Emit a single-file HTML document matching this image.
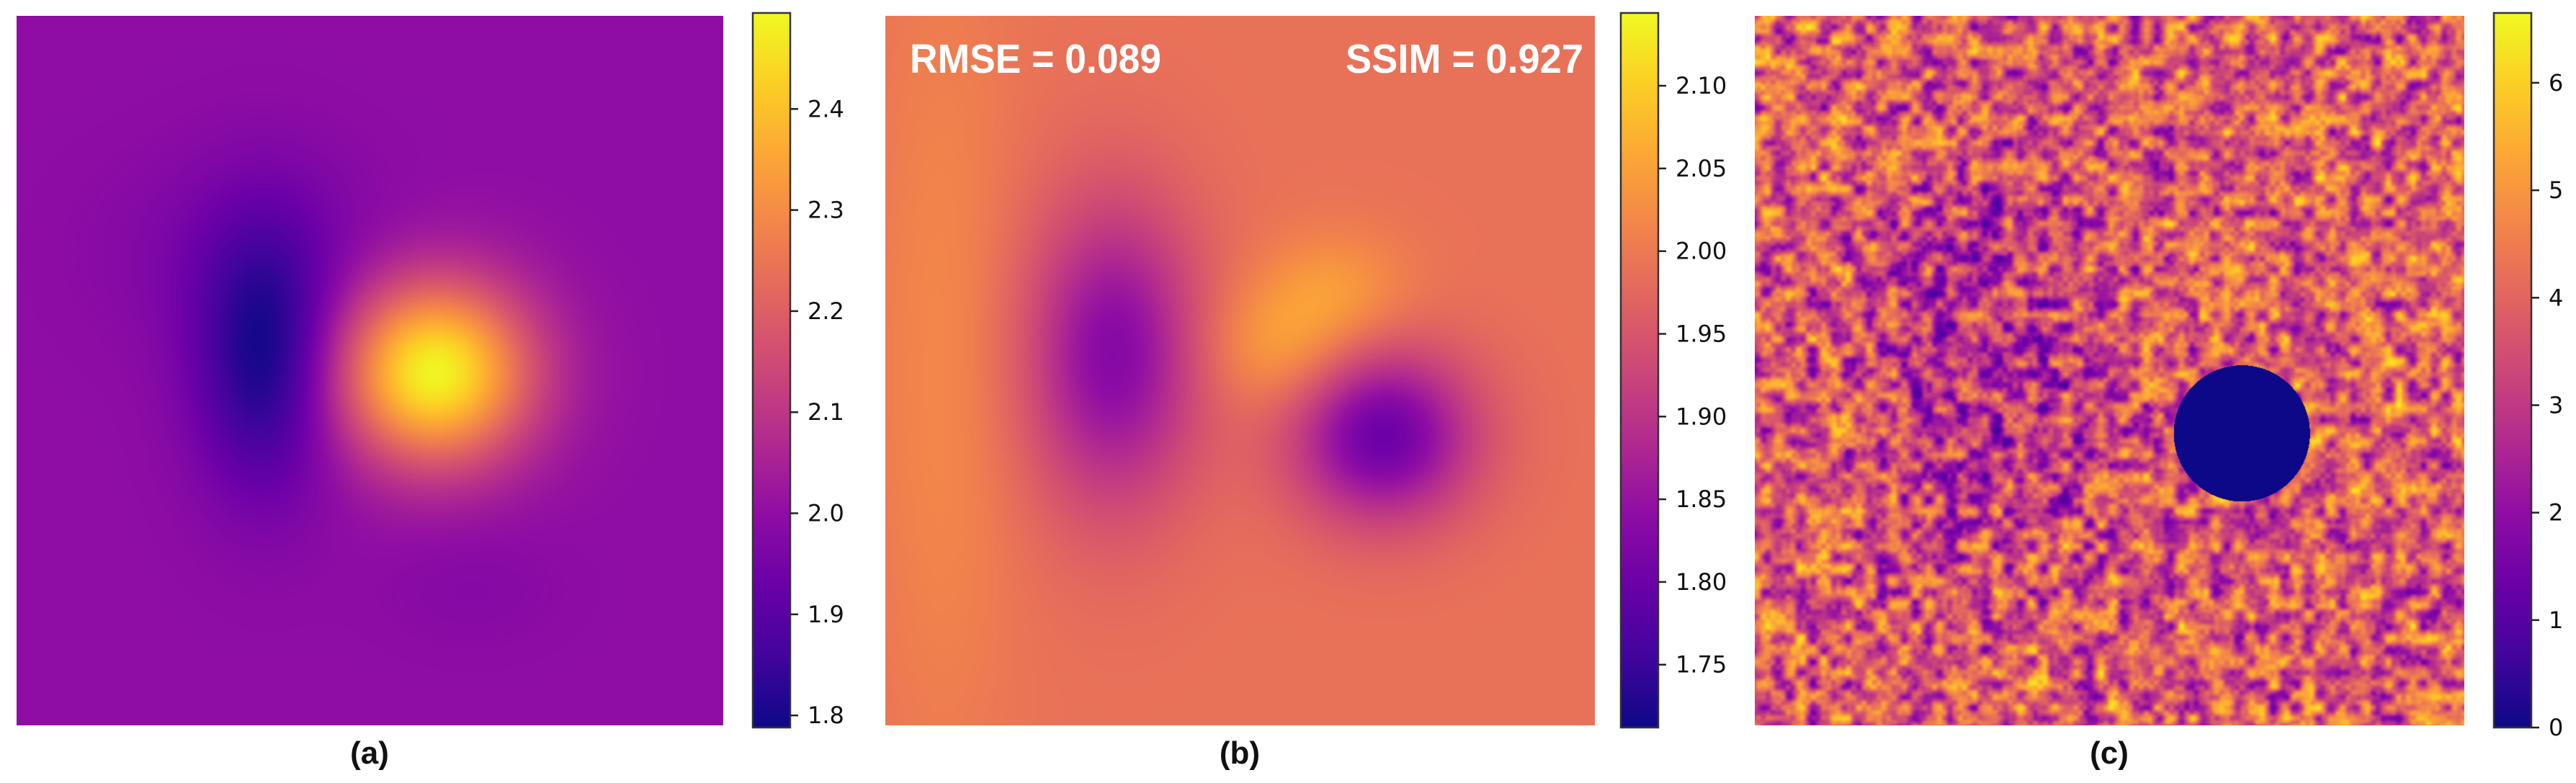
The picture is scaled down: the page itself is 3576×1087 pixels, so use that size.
<!DOCTYPE html>
<html><head><meta charset="utf-8"><style>
body{margin:0;background:#fff;width:3576px;height:1087px;overflow:hidden;position:relative;font-family:"DejaVu Sans","Liberation Sans",sans-serif}
canvas{position:absolute}
svg{position:absolute;left:0;top:0}
</style></head><body>
<canvas id="ca" width="245" height="246" style="left:23px;top:22px;width:981px;height:985px"></canvas>
<canvas id="cb" width="246" height="246" style="left:1229px;top:22px;width:985px;height:985px"></canvas>
<canvas id="cc" width="985" height="985" style="left:2436px;top:22px;width:985px;height:985px"></canvas>
<svg id="s" width="3576" height="1087"></svg>
<script>
// colorbar data
const cbA_ticks=[1.8,1.9,2.0,2.1,2.2,2.3,2.4], cbA_labels=["1.8","1.9","2.0","2.1","2.2","2.3","2.4"], cbA_range=[1.788,2.495];
const cbB_ticks=[1.75,1.80,1.85,1.90,1.95,2.00,2.05,2.10], cbB_labels=["1.75","1.80","1.85","1.90","1.95","2.00","2.05","2.10"], cbB_range=[1.712,2.144];
const cbC_ticks=[0,1,2,3,4,5,6], cbC_labels=["0","1","2","3","4","5","6"], cbC_range=[0,6.65];
// field components [cx, cy, sx, sy, amplitude] in panel fraction
const fieldA_base=2.0;
const fieldA_blobs=[[0.35,0.48,0.07,0.13,-0.2],[0.33,0.33,0.14,0.1,-0.04],[0.59,0.5,0.095,0.09,0.49],[0.64,0.8,0.09,0.06,-0.02]];
const fieldB_base=1.99;
const fieldB_blobs=[[0.32,0.475,0.085,0.15,-0.16],[0.70,0.59,0.09,0.085,-0.19],[0.63,0.39,0.075,0.06,0.055],[0.55,0.47,0.07,0.06,0.055],[0.08,0.5,0.07,0.4,0.03]];
const fieldC_base=3.9;
const fieldC_regions=[[0.35,0.47,0.16,0.2,-1.1],[0.58,0.45,0.1,0.1,0.5]];
const fieldC_hole=[0.686,0.588,0.096];
const stops=[[13,8,135],[65,4,157],[106,0,168],[143,13,164],[177,42,144],[204,71,120],[225,100,98],[242,132,75],[252,166,54],[252,206,37],[240,249,33]];
function plasma(t){t=Math.max(0,Math.min(1,t));const f=t*10,i=Math.min(9,Math.floor(f)),r=f-i,a=stops[i],b=stops[i+1];return [a[0]+(b[0]-a[0])*r,a[1]+(b[1]-a[1])*r,a[2]+(b[2]-a[2])*r];}
function drawField(id,base,blobs,range){const c=document.getElementById(id),ctx=c.getContext('2d'),W=c.width,H=c.height,img=ctx.createImageData(W,H);
for(let y=0;y<H;y++)for(let x=0;x<W;x++){const u=x/W,v=y/H;let val=base;for(const b of blobs){val+=b[4]*Math.exp(-((u-b[0])**2/(2*b[2]*b[2])+(v-b[1])**2/(2*b[3]*b[3])));}
const col=plasma((val-range[0])/(range[1]-range[0])),k=(y*W+x)*4;img.data[k]=col[0];img.data[k+1]=col[1];img.data[k+2]=col[2];img.data[k+3]=255;}
ctx.putImageData(img,0,0);}
drawField('ca',fieldA_base,fieldA_blobs,cbA_range);
drawField('cb',fieldB_base,fieldB_blobs,cbB_range);
function hash(i,j){let h=(i*374761393+j*668265263)^0x5bd1e995;h=(h^(h>>>13))*1274126177;h=h^(h>>>16);return (h&0xffff)/65535;}
function vnoise(x,y,s){const gx=x/s,gy=y/s,i=Math.floor(gx),j=Math.floor(gy),fx=gx-i,fy=gy-j,sx=fx*fx*(3-2*fx),sy=fy*fy*(3-2*fy);
const a=hash(i,j),b=hash(i+1,j),c=hash(i,j+1),d=hash(i+1,j+1);return a+(b-a)*sx+(c-a)*sy+(a-b-c+d)*sx*sy;}
(function(){const c=document.getElementById('cc'),ctx=c.getContext('2d'),W=c.width,H=c.height,img=ctx.createImageData(W,H);
for(let y=0;y<H;y++)for(let x=0;x<W;x++){const u=x/W,v=y/H;let val=fieldC_base;
for(const r of fieldC_regions)val+=r[4]*Math.exp(-((u-r[0])**2/(2*r[2]*r[2])+(v-r[1])**2/(2*r[3]*r[3])));
const n=vnoise(x,y,16)*0.75+vnoise(x+500,y+300,7)*0.25-0.5;val+=n*5.5;
let col;const dh=Math.hypot(u-fieldC_hole[0],v-fieldC_hole[1]);
if(dh<fieldC_hole[2])col=plasma(0);else col=plasma(val/cbC_range[1]);
const k=(y*W+x)*4;img.data[k]=col[0];img.data[k+1]=col[1];img.data[k+2]=col[2];img.data[k+3]=255;}
ctx.putImageData(img,0,0);})();
const s=document.getElementById('s'),NS='http://www.w3.org/2000/svg';
function el(t,a,p){const e=document.createElementNS(NS,t);for(const k in a)e.setAttribute(k,a[k]);(p||s).appendChild(e);return e;}
const defs=el('defs',{});const g=el('linearGradient',{id:'pl',x1:0,y1:1,x2:0,y2:0},defs);
stops.forEach((c,i)=>el('stop',{offset:i/10,'stop-color':`rgb(${c})`},g));
function colorbar(x,ticks,labels,range,name){const top=18,bot=1010,w=52;
const r=el('rect',{x:x,y:top,width:w,height:bot-top,fill:'url(#pl)',stroke:'#333',"stroke-width":2.5});


ticks.forEach((t,i)=>{const y=bot-(t-range[0])/(range[1]-range[0])*(bot-top);
el('line',{x1:x+w,x2:x+w+11,y1:y,y2:y,stroke:'#222','stroke-width':2.5});
const tx=el('text',{x:x+w+24,y:y+11,'font-size':32,fill:'#111'});tx.textContent=labels[i];

});}
colorbar(1045,cbA_ticks,cbA_labels,cbA_range,'colorbar-a');
colorbar(2250,cbB_ticks,cbB_labels,cbB_range,'colorbar-b');
colorbar(3462,cbC_ticks,cbC_labels,cbC_range,'colorbar-c');
[['(a)',513],['(b)',1721],['(c)',2928]].forEach(([t,x])=>{const e=el('text',{x:x,y:1060,'font-size':44,'font-weight':'bold','text-anchor':'middle',fill:'#111','font-family':'Liberation Sans, sans-serif'});e.textContent=t;

});
const t1=el('text',{x:1263,y:101,'font-size':57,'font-weight':'bold',fill:'#fff',textLength:349,lengthAdjust:'spacingAndGlyphs','font-family':'Liberation Sans, sans-serif'});t1.textContent='RMSE = 0.089';


const t2=el('text',{x:2198,y:101,'font-size':57,'font-weight':'bold',fill:'#fff','text-anchor':'end',textLength:330,lengthAdjust:'spacingAndGlyphs','font-family':'Liberation Sans, sans-serif'});t2.textContent='SSIM = 0.927';


</script>
</body></html>
